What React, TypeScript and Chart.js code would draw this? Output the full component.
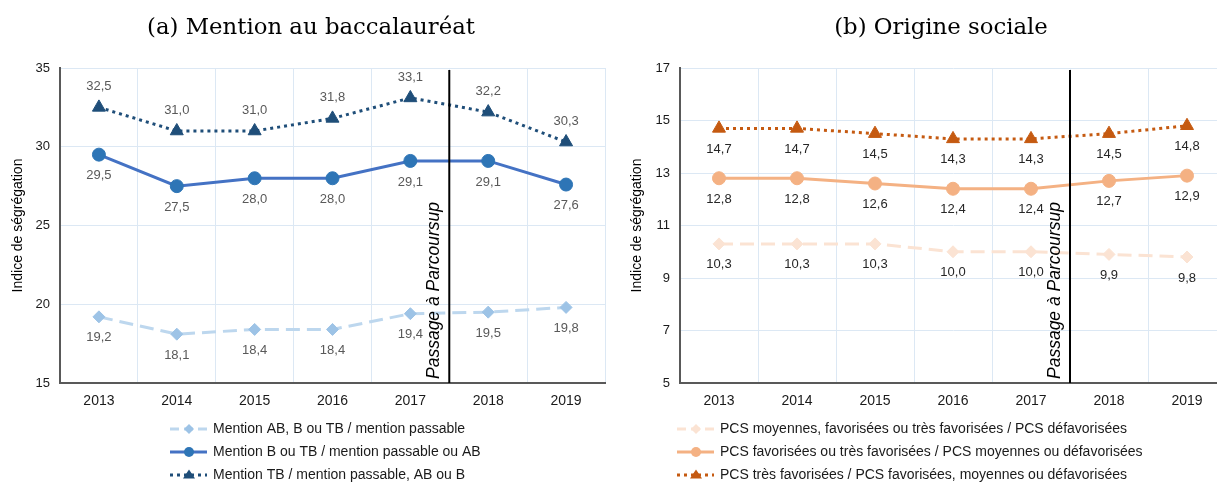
import React, { useEffect, useRef } from 'react';
import { Chart, registerables } from 'chart.js';

Chart.register(...registerables);

// ---------- Data ----------
const years = ['2013', '2014', '2015', '2016', '2017', '2018', '2019'];

const mentionAB = [19.2, 18.1, 18.4, 18.4, 19.4, 19.5, 19.8];
const mentionB = [29.5, 27.5, 28.0, 28.0, 29.1, 29.1, 27.6];
const mentionTB = [32.5, 31.0, 31.0, 31.8, 33.1, 32.2, 30.3];

const pcsMoyennes = [10.3, 10.3, 10.3, 10.0, 10.0, 9.9, 9.8];
const pcsFavorisees = [12.8, 12.8, 12.6, 12.4, 12.4, 12.7, 12.9];
const pcsTresFavorisees = [14.7, 14.7, 14.5, 14.3, 14.3, 14.5, 14.8];

const leftLabels = [
  'Mention AB, B ou TB / mention passable',
  'Mention B ou TB / mention passable ou AB',
  'Mention TB / mention passable, AB ou B',
];
const rightLabels = [
  'PCS moyennes, favorisées ou très favorisées / PCS défavorisées',
  'PCS favorisées ou très favorisées / PCS moyennes ou défavorisées',
  'PCS très favorisées / PCS favorisées, moyennes ou défavorisées',
];

const leftTitle = '(a) Mention au baccalauréat';
const rightTitle = '(b) Origine sociale';
const yTitle = 'Indice de ségrégation';
const reformText = 'Passage à Parcoursup';

const SANS = '"Liberation Sans", Arial, sans-serif';
const GRID = '#DCE8F4';
const AXIS = '#595959';

const fmt = (v: number) => v.toFixed(1).replace('.', ',');

function drawMarker(ctx: CanvasRenderingContext2D, style: string, x: number, y: number, r: number) {
  ctx.beginPath();
  if (style === 'circle') {
    ctx.arc(x, y, r, 0, Math.PI * 2);
  } else if (style === 'triangle') {
    const h = r * 1.5;
    ctx.moveTo(x, y - h * 0.6);
    ctx.lineTo(x + r, y + h * 0.4);
    ctx.lineTo(x - r, y + h * 0.4);
    ctx.closePath();
  } else {
    ctx.moveTo(x, y - r);
    ctx.lineTo(x + r, y);
    ctx.lineTo(x, y + r);
    ctx.lineTo(x - r, y);
    ctx.closePath();
  }
  ctx.fill();
}

const overlayPlugin = {
  id: 'overlay',
  afterDatasetsDraw(chart: any, _args: any, opts: any) {
    const ctx: CanvasRenderingContext2D = chart.ctx;
    const xs = chart.scales.x;
    const { top, bottom } = chart.chartArea;

    // data labels
    ctx.save();
    ctx.font = `13px ${SANS}`;
    ctx.fillStyle = opts.labelColor;
    ctx.textAlign = 'center';
    ctx.textBaseline = 'middle';
    chart.data.datasets.forEach((ds: any, i: number) => {
      const meta = chart.getDatasetMeta(i);
      meta.data.forEach((pt: any, j: number) => {
        const off = ds.labelPos === 'above' ? -21 : 21;
        ctx.fillText(fmt(ds.data[j]), pt.x, pt.y + off);
      });
    });
    ctx.restore();

    // reform line
    const lx = (xs.getPixelForValue(4) + xs.getPixelForValue(5)) / 2;
    ctx.save();
    ctx.strokeStyle = '#000';
    ctx.lineWidth = 2;
    ctx.beginPath();
    ctx.moveTo(lx, top + 2);
    ctx.lineTo(lx, bottom);
    ctx.stroke();
    ctx.translate(lx - 10, bottom - 4);
    ctx.rotate(-Math.PI / 2);
    ctx.font = `italic 17.5px ${SANS}`;
    ctx.fillStyle = '#000';
    ctx.textAlign = 'left';
    ctx.textBaseline = 'alphabetic';
    ctx.fillText(reformText, 0, 0);
    ctx.restore();
  },
  afterDraw(chart: any, _args: any, opts: any) {
    const ctx: CanvasRenderingContext2D = chart.ctx;
    // title
    ctx.save();
    ctx.font = `22.8px "DejaVu Serif", serif`;
    ctx.fillStyle = '#000';
    ctx.textAlign = 'center';
    ctx.textBaseline = 'middle';
    ctx.fillText(opts.title, opts.titleX, 28);
    ctx.restore();

    // legend
    ctx.save();
    chart.data.datasets.forEach((ds: any, i: number) => {
      const y = opts.legendY + i * 23;
      const x0 = opts.legendX;
      ctx.strokeStyle = ds.borderColor;
      ctx.lineWidth = 3;
      ctx.setLineDash(ds.legendDash || []);
      ctx.beginPath();
      ctx.moveTo(x0, y);
      ctx.lineTo(x0 + 37, y);
      ctx.stroke();
      ctx.setLineDash([]);
      ctx.fillStyle = ds.pointBackgroundColor;
      drawMarker(ctx, ds.pointStyle, x0 + 19, y, ds.pointStyle === 'triangle' ? 6 : 5);
      ctx.fillStyle = '#1a1a1a';
      ctx.font = `14px ${SANS}`;
      ctx.textAlign = 'left';
      ctx.textBaseline = 'middle';
      ctx.fillText(ds.label, x0 + 43, y);
    });
    ctx.restore();
  },
};

function makeDataset(label: string, data: number[], kind: 'dash' | 'solid' | 'dot', line: string, point: string, labelPos: string) {
  const style = kind === 'dash' ? 'rectRot' : kind === 'solid' ? 'circle' : 'triangle';
  const dash = kind === 'dash' ? [14, 7] : kind === 'dot' ? [3, 4] : [];
  return {
    label,
    data,
    borderColor: line,
    backgroundColor: point,
    pointBackgroundColor: point,
    pointBorderColor: point,
    pointBorderWidth: 1,
    pointStyle: style,
    pointRadius: kind === 'dash' ? 6 : kind === 'solid' ? 6.5 : 7.5,
    borderWidth: 3,
    borderDash: dash,
    legendDash: kind === 'dash' ? [9, 5] : kind === 'dot' ? [3, 4] : [],
    tension: 0,
    fill: false,
    clip: false,
    labelPos,
  };
}

function makeConfig(p: any) {
  return {
    type: 'line',
    data: { labels: years, datasets: p.datasets },
    options: {
      responsive: false,
      animation: false,
      events: [],
      font: { family: SANS },
      layout: { autoPadding: false, padding: { top: 68, bottom: 71, left: 0, right: p.padRight } },
      plugins: {
        legend: { display: false },
        tooltip: { enabled: false },
        overlay: {
          labelColor: p.labelColor,
          title: p.title,
          titleX: p.titleX,
          legendX: p.legendX,
          legendY: 429,
        },
      },
      scales: {
        x: {
          offset: true,
          grid: { offset: true, color: GRID, drawTicks: false, lineWidth: 1 },
          border: { color: AXIS, width: 2 },
          ticks: { padding: 10, color: '#1a1a1a', font: { size: 14, family: SANS } },
          afterFit: (s: any) => {
            s.height = 30;
            s.paddingLeft = 0;
            s.paddingRight = 0;
          },
        },
        y: {
          min: p.min,
          max: p.max,
          ticks: { stepSize: p.step, padding: 10, color: '#1a1a1a', font: { size: 13, family: SANS } },
          grid: { color: GRID, drawTicks: false, lineWidth: 1 },
          border: { color: AXIS, width: 2 },
          title: {
            display: true,
            text: yTitle,
            color: '#000',
            font: { size: 14, family: SANS },
            padding: { top: p.yTitlePad, bottom: 0 },
          },
          afterFit: (s: any) => {
            s.width = p.yWidth;
          },
        },
      },
    },
    plugins: [overlayPlugin],
  } as any;
}

function LineChart({ config, left, width }: { config: any; left: number; width: number }) {
  const ref = useRef<HTMLCanvasElement>(null);
  useEffect(() => {
    const chart = new Chart(ref.current as HTMLCanvasElement, config);
    return () => chart.destroy();
  }, []);
  return (
    <canvas
      ref={ref}
      width={width}
      height={484}
      style={{ position: 'absolute', left, top: 0, width, height: 484 }}
    />
  );
}

export default function App() {
  const leftConfig = makeConfig({
    datasets: [
      makeDataset(leftLabels[0], mentionAB, 'dash', '#BDD7EE', '#9DC3E6', 'below'),
      makeDataset(leftLabels[1], mentionB, 'solid', '#4472C4', '#2E75B6', 'below'),
      makeDataset(leftLabels[2], mentionTB, 'dot', '#1F4E79', '#1F4E79', 'above'),
    ],
    min: 15,
    max: 35,
    step: 5,
    yWidth: 60,
    yTitlePad: 10,
    padRight: 3,
    labelColor: '#595959',
    title: leftTitle,
    titleX: 311,
    legendX: 170,
  });
  const rightConfig = makeConfig({
    datasets: [
      makeDataset(rightLabels[0], pcsMoyennes, 'dash', '#FBE3D3', '#FBE3D3', 'below'),
      makeDataset(rightLabels[1], pcsFavorisees, 'solid', '#F4B183', '#F4B183', 'below'),
      makeDataset(rightLabels[2], pcsTresFavorisees, 'dot', '#C55A11', '#C55A11', 'below'),
    ],
    min: 5,
    max: 17,
    step: 2,
    yWidth: 70,
    yTitlePad: 19,
    padRight: 4,
    labelColor: '#262626',
    title: rightTitle,
    titleX: 331,
    legendX: 67,
  });
  return (
    <div
      style={{
        position: 'fixed',
        left: 0,
        top: 0,
        width: 1217,
        height: 484,
        overflow: 'hidden',
        background: '#fff',
      }}
    >
      <LineChart config={leftConfig} left={0} width={608} />
      <LineChart config={rightConfig} left={610} width={620} />
    </div>
  );
}
